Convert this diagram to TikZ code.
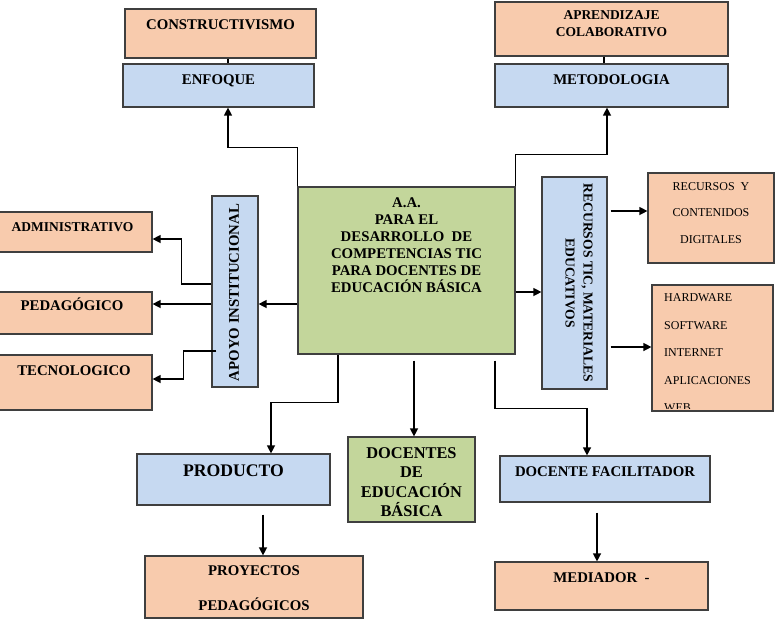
\documentclass[tikz,border=0pt]{standalone}
\usepackage{fontspec}
\setmainfont{Liberation Serif}
\usetikzlibrary{arrows.meta, calc, positioning}
\definecolor{peach}{HTML}{F8CBAD}
\definecolor{paleblue}{HTML}{C6D9F1}
\definecolor{palegreen}{HTML}{C3D69B}
\definecolor{boxline}{HTML}{3F3F3F}

\begin{document}
\begin{tikzpicture}[x=1pt, y=-1pt,
  box/.style={draw=boxline, line width=1.2pt, inner sep=0pt},
  peachbox/.style={box, fill=peach},
  bluebox/.style={box, fill=paleblue},
  greenbox/.style={box, fill=palegreen},
  lbl/.style={font=\bfseries\fontsize{14.8}{17}\selectfont, inner sep=0pt, text height=9.8pt, text depth=0pt},
  lines/.style={font=\bfseries\fontsize{14.8}{17}\selectfont, inner sep=0pt, align=center},
  small/.style={font=\bfseries\fontsize{13.5}{17}\selectfont, text height=8.9pt},
  arr/.style={line width=1.3pt, -{Triangle[length=8pt, width=8pt]}},
  link/.style={line width=1.3pt}]
  \useasboundingbox (0,0) rectangle (775,630);

  % upper boxes
  \node[peachbox, minimum width=191pt, minimum height=49pt] (constr) at (220.5,33.5) {};
  \node[bluebox, minimum width=191pt, minimum height=43pt] (enfoque) at (218.5,85.5) {};
  \node[peachbox, minimum width=233pt, minimum height=54pt] (aprend) at (611.5,29) {};
  \node[bluebox, minimum width=233pt, minimum height=43pt] (metodo) at (611.5,85.5) {};

  % centre
  \node[greenbox, minimum width=217pt, minimum height=167pt] (aa) at (406.5,270.5) {};

  % left side
  \node[bluebox, minimum width=46pt, minimum height=191pt] (apoyo) at (235,291.5) {};
  \node[peachbox, minimum width=154pt, minimum height=40pt] (admin) at (75,232) {};
  \node[peachbox, minimum width=154pt, minimum height=42pt] (pedag) at (75,313) {};
  \node[peachbox, minimum width=154pt, minimum height=55pt] (tecno) at (75,382.5) {};

  % right side
  \node[bluebox, minimum width=65pt, minimum height=212pt] (tic) at (574.5,283) {};
  \node[peachbox, minimum width=126pt, minimum height=90pt] (contenidos) at (711,218) {};
  \node[peachbox, minimum width=121pt, minimum height=126pt] (hardware) at (712.5,348) {};

  % lower boxes
  \node[bluebox, minimum width=193pt, minimum height=51pt] (producto) at (233.5,479.5) {};
  \node[greenbox, minimum width=127pt, minimum height=85pt] (docentes) at (411.5,479.5) {};
  \node[peachbox, minimum width=218pt, minimum height=62pt] (proyectos) at (254,587) {};
  \node[bluebox, minimum width=210pt, minimum height=46pt] (facilitador) at (605,479) {};
  \node[peachbox, minimum width=213pt, minimum height=48pt] (mediador) at (601.5,586) {};

  % texts
  \node[lbl] (t-constr) at (220.5,25) {CONSTRUCTIVISMO};
  \node[lbl] (t-enfoque) at (218.5,80) {ENFOQUE};
  \node[lines, font=\bfseries\fontsize{13.5}{17}\selectfont] (t-aprend) at (611.5,23.5) {APRENDIZAJE\\COLABORATIVO};
  \node[lbl] (t-metodo) at (611.5,80) {METODOLOGIA};
  \node[lines] (t-aa) at (406.5,245.5) {A.A.\\PARA EL\\DESARROLLO\ \ DE\\COMPETENCIAS TIC\\PARA DOCENTES DE\\EDUCACIÓN BÁSICA};
  \node[lbl, rotate=90] (t-apoyo) at (234,292.5) {APOYO INSTITUCIONAL};
  \node[lbl, small] (t-admin) at (72.5,227) {ADMINISTRATIVO};
  \node[lbl] (t-pedag) at (72,306) {PEDAGÓGICO};
  \node[lbl] (t-tecno) at (74,371) {TECNOLOGICO};
  \node[lines, font=\bfseries\fontsize{13.6}{18}\selectfont, rotate=-90] (t-tic) at (579,283) {RECURSOS TIC, MATERIALES\\EDUCATIVOS};
  \node[lines, font=\fontsize{12}{26.5}\selectfont] (t-contenidos) at (711,213) {RECURSOS\ \ Y\\CONTENIDOS\\DIGITALES};
  \begin{scope}
    \clip (hardware.north west) rectangle ($(hardware.south east)+(0,-3.5)$);
    \node[inner sep=0pt, align=left, anchor=west, font=\fontsize{12}{27.5}\selectfont] (t-hardware) at (664,353) {HARDWARE\\SOFTWARE\\INTERNET\\APLICACIONES\\WEB};
  \end{scope}
  \node[lbl, font=\bfseries\fontsize{17.7}{20}\selectfont, text height=11.7pt] (t-producto) at (233.5,471) {PRODUCTO};
  \node[lines, font=\bfseries\fontsize{16.4}{19.3}\selectfont] (t-docentes) at (411.5,482) {DOCENTES\\DE\\EDUCACIÓN\\BÁSICA};
  \node[lines, font=\bfseries\fontsize{14.8}{35}\selectfont] (t-proyectos) at (254,588.5) {PROYECTOS\\PEDAGÓGICOS};
  \node[lbl] (t-facilitador) at (605,472) {DOCENTE FACILITADOR};
  \node[lbl] (t-mediador) at (601.5,578) {MEDIADOR\ \ -};

  % connectors
  \draw[link] ($(constr.south)+(7.5,0)$) -- ($(enfoque.north)+(9.5,0)$);
  \draw[link] ($(aprend.south)+(-7.5,0)$) -- ($(metodo.north)+(-7.5,0)$);
  \draw[arr] (aa.north west) -- ++(0,-39) -| ($(enfoque.south)+(9.5,0)$);
  \draw[arr] (aa.north east) -- ++(0,-32) -| ($(metodo.south)+(-4.5,0)$);
  \draw[arr] ($(aa.west)+(0,33.5)$) -- ($(apoyo.east)+(0,12.5)$);
  \draw[arr] ($(apoyo.west)+(0,-7.5)$) -- ++(-30,0) |- ($(admin.east)+(0,7)$);
  \draw[arr] ($(apoyo.west)+(0,12.5)$) -- ($(pedag.east)+(0,-9)$);
  \draw[arr] ($(apoyo.west)+(5,59.5)$) -- ++(-33,0) |- ($(tecno.east)+(0,-3.5)$);
  \draw[arr] ($(aa.east)+(0,21.5)$) -- ($(tic.west)+(0,9)$);
  \draw[arr] ($(tic.east)+(3,-72)$) -- ($(contenidos.west)+(0,-7)$);
  \draw[arr] ($(tic.east)+(3,64)$) -- ($(hardware.west)+(0,-1)$);
  \draw[arr] ($(aa.south)+(-68.5,0)$) -- ++(0,48) -| ($(producto.north)+(37.5,0)$);
  \draw[arr] ($(aa.south)+(7.5,6)$) -- ($(docentes.north)+(2.5,0)$);
  \draw[arr] ($(aa.south)+(88.5,6)$) -- ++(0,48) -| ($(facilitador.north)+(-18,0)$);
  \draw[arr] ($(producto.south)+(29.5,9)$) -- ($(proyectos.north)+(9,0)$);
  \draw[arr] ($(facilitador.south)+(-8,10)$) -- ($(mediador.north)+(-4.5,0)$);
\end{tikzpicture}
\end{document}
